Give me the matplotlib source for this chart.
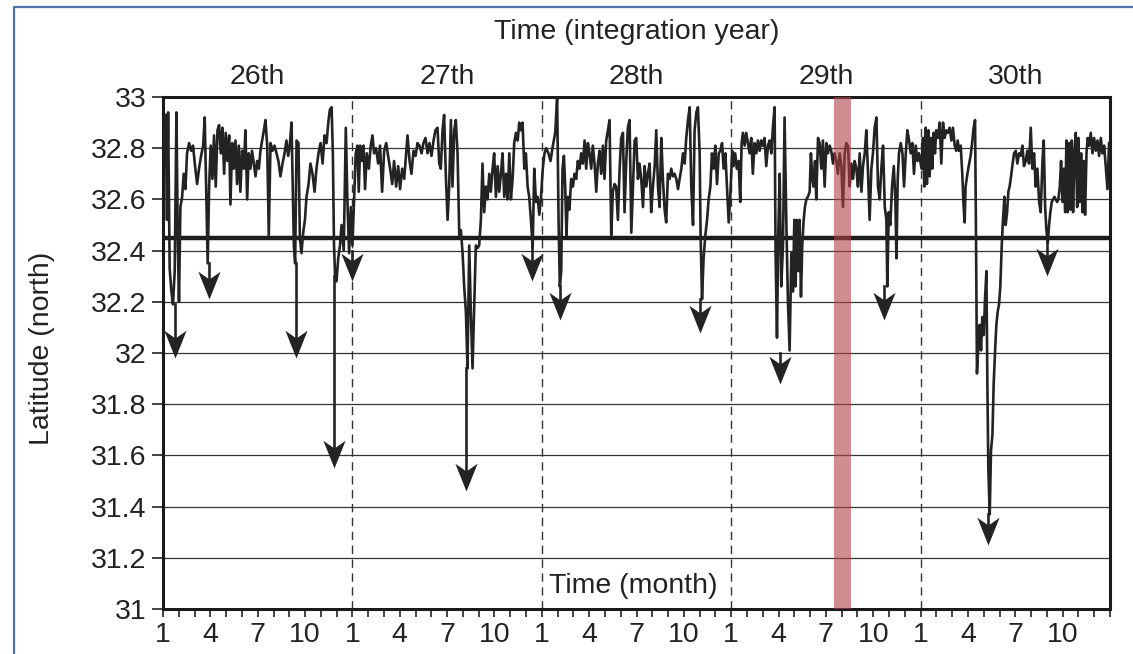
import matplotlib.pyplot as plt
import numpy as np
from matplotlib.path import Path
from matplotlib.lines import Line2D

plt.rcParams["font.family"] = ["Liberation Sans", "DejaVu Sans"]

# integration years shown and month tick labels
years = ["26th", "27th", "28th", "29th", "30th"]
month_labels = ["1", "4", "7", "10"]

# (months since start of year, latitude north) for each integration year
yr26 = [(0.00, 32.78), (0.06, 32.86), (0.17, 32.93), (0.25, 32.52), (0.32, 32.94), (0.42, 32.33),
        (0.53, 32.24), (0.63, 32.19), (0.74, 32.32), (0.85, 32.94), (0.93, 32.46), (1.01, 32.20),
        (1.10, 32.57), (1.21, 32.61), (1.31, 32.70), (1.42, 32.64), (1.52, 32.78), (1.65, 32.82),
        (1.78, 32.79), (1.90, 32.81), (2.03, 32.73), (2.16, 32.66), (2.28, 32.72), (2.41, 32.77),
        (2.54, 32.81), (2.64, 32.92), (2.73, 32.65), (2.83, 32.35), (2.92, 32.65), (3.02, 32.81),
        (3.13, 32.68), (3.23, 32.85), (3.34, 32.65), (3.45, 32.87), (3.55, 32.89), (3.66, 32.78),
        (3.76, 32.88), (3.87, 32.70), (3.97, 32.86), (4.08, 32.75), (4.19, 32.85), (4.27, 32.58),
        (4.38, 32.82), (4.48, 32.72), (4.59, 32.83), (4.69, 32.66), (4.80, 32.81), (4.90, 32.63),
        (5.01, 32.79), (5.12, 32.72), (5.22, 32.87), (5.33, 32.60), (5.43, 32.78), (5.54, 32.72),
        (5.64, 32.79), (5.75, 32.74), (5.86, 32.69), (5.96, 32.75), (6.07, 32.72), (6.17, 32.79),
        (6.28, 32.83), (6.39, 32.87), (6.49, 32.91), (6.60, 32.81), (6.70, 32.46), (6.81, 32.82),
        (6.93, 32.79), (7.06, 32.81), (7.19, 32.78), (7.31, 32.75), (7.44, 32.69), (7.57, 32.74),
        (7.70, 32.78), (7.82, 32.83), (7.93, 32.77), (8.03, 32.81), (8.14, 32.90), (8.22, 32.65),
        (8.29, 32.42), (8.37, 32.35), (8.46, 32.83), (8.58, 32.82), (8.67, 32.45), (8.77, 32.39),
        (8.88, 32.47), (8.99, 32.52), (9.09, 32.61), (9.22, 32.66), (9.34, 32.74), (9.47, 32.70),
        (9.60, 32.63), (9.72, 32.72), (9.85, 32.78), (9.98, 32.82), (10.11, 32.74), (10.23, 32.85),
        (10.36, 32.82), (10.47, 32.90), (10.57, 32.95), (10.68, 32.96), (10.76, 32.78), (10.83, 32.43),
        (10.90, 32.30), (10.99, 32.28), (11.10, 32.37), (11.21, 32.42), (11.31, 32.50), (11.45, 32.40),
        (11.58, 32.88), (11.68, 32.60), (11.79, 32.39), (11.90, 32.57)]

yr27 = [(0.00, 32.42), (0.11, 32.61), (0.21, 32.78), (0.32, 32.81), (0.40, 32.63), (0.49, 32.81),
        (0.59, 32.75), (0.70, 32.81), (0.80, 32.64), (0.91, 32.78), (1.04, 32.72), (1.16, 32.81),
        (1.27, 32.85), (1.37, 32.78), (1.50, 32.80), (1.63, 32.74), (1.75, 32.81), (1.88, 32.63),
        (2.01, 32.79), (2.14, 32.82), (2.26, 32.77), (2.39, 32.72), (2.52, 32.66), (2.64, 32.75),
        (2.77, 32.65), (2.90, 32.73), (3.02, 32.64), (3.15, 32.72), (3.28, 32.68), (3.40, 32.78),
        (3.49, 32.85), (3.62, 32.75), (3.74, 32.70), (3.87, 32.79), (4.00, 32.77), (4.12, 32.82),
        (4.25, 32.81), (4.38, 32.78), (4.50, 32.82), (4.63, 32.84), (4.76, 32.78), (4.88, 32.82),
        (5.01, 32.77), (5.14, 32.83), (5.26, 32.87), (5.39, 32.88), (5.50, 32.74), (5.60, 32.72),
        (5.71, 32.87), (5.81, 32.93), (5.92, 32.69), (6.03, 32.52), (6.13, 32.65), (6.24, 32.91),
        (6.34, 32.65), (6.45, 32.87), (6.55, 32.91), (6.66, 32.78), (6.77, 32.46), (6.87, 32.48),
        (6.98, 32.39), (7.08, 32.26), (7.19, 32.16), (7.29, 31.94), (7.40, 32.42), (7.51, 32.14),
        (7.61, 31.94), (7.72, 32.20), (7.82, 32.42), (7.93, 32.41), (8.03, 32.42), (8.14, 32.52),
        (8.24, 32.74), (8.35, 32.55), (8.46, 32.65), (8.56, 32.60), (8.67, 32.70), (8.77, 32.63),
        (8.88, 32.72), (8.98, 32.78), (9.09, 32.61), (9.20, 32.73), (9.30, 32.63), (9.41, 32.70),
        (9.51, 32.78), (9.62, 32.61), (9.73, 32.70), (9.83, 32.60), (9.94, 32.78), (10.04, 32.60),
        (10.15, 32.68), (10.25, 32.82), (10.36, 32.86), (10.47, 32.83), (10.57, 32.90), (10.68, 32.87),
        (10.78, 32.90), (10.89, 32.72), (10.99, 32.78), (11.10, 32.65), (11.20, 32.61), (11.31, 32.52),
        (11.42, 32.41), (11.52, 32.72), (11.63, 32.59), (11.73, 32.61), (11.84, 32.54), (11.94, 32.60)]

yr28 = [(0.06, 32.72), (0.17, 32.78), (0.27, 32.80), (0.42, 32.78), (0.55, 32.75), (0.70, 32.81),
        (0.85, 32.86), (0.97, 33.00), (1.06, 32.52), (1.14, 32.26), (1.23, 32.32), (1.31, 32.72),
        (1.40, 32.77), (1.48, 32.65), (1.56, 32.46), (1.65, 32.61), (1.75, 32.56), (1.86, 32.68),
        (1.97, 32.65), (2.07, 32.70), (2.18, 32.68), (2.28, 32.75), (2.39, 32.72), (2.49, 32.78),
        (2.60, 32.74), (2.71, 32.83), (2.81, 32.72), (2.92, 32.82), (3.02, 32.78), (3.13, 32.72),
        (3.23, 32.81), (3.34, 32.74), (3.45, 32.63), (3.55, 32.74), (3.66, 32.79), (3.76, 32.70),
        (3.87, 32.81), (3.97, 32.68), (4.08, 32.83), (4.19, 32.87), (4.29, 32.91), (4.40, 32.46),
        (4.50, 32.63), (4.61, 32.66), (4.71, 32.65), (4.82, 32.52), (4.93, 32.72), (5.03, 32.84),
        (5.14, 32.86), (5.24, 32.55), (5.35, 32.75), (5.45, 32.88), (5.56, 32.91), (5.67, 32.47),
        (5.77, 32.64), (5.88, 32.83), (5.98, 32.84), (6.09, 32.68), (6.19, 32.74), (6.30, 32.68),
        (6.41, 32.57), (6.51, 32.73), (6.62, 32.65), (6.72, 32.70), (6.83, 32.74), (6.93, 32.55),
        (7.04, 32.65), (7.15, 32.73), (7.25, 32.87), (7.36, 32.65), (7.46, 32.57), (7.57, 32.84),
        (7.67, 32.68), (7.78, 32.56), (7.88, 32.51), (7.99, 32.70), (8.10, 32.68), (8.20, 32.72),
        (8.31, 32.69), (8.41, 32.70), (8.52, 32.68), (8.63, 32.64), (8.73, 32.68), (8.84, 32.72),
        (8.94, 32.78), (9.05, 32.74), (9.15, 32.84), (9.26, 32.91), (9.37, 32.96), (9.47, 32.65),
        (9.58, 32.50), (9.68, 32.87), (9.79, 32.94), (9.89, 32.96), (10.00, 32.78), (10.06, 32.46),
        (10.15, 32.21), (10.25, 32.37), (10.36, 32.46), (10.47, 32.52), (10.57, 32.60), (10.68, 32.65),
        (10.78, 32.78), (10.89, 32.72), (10.99, 32.81), (11.10, 32.66), (11.21, 32.78), (11.31, 32.79),
        (11.42, 32.82), (11.52, 32.72), (11.63, 32.78), (11.73, 32.65), (11.84, 32.51), (11.94, 32.61)]

yr29 = [(0.06, 32.79), (0.15, 32.73), (0.25, 32.78), (0.36, 32.72), (0.47, 32.75), (0.57, 32.59),
        (0.66, 32.82), (0.74, 32.86), (0.85, 32.81), (0.95, 32.86), (1.06, 32.82), (1.16, 32.78),
        (1.27, 32.84), (1.37, 32.70), (1.48, 32.82), (1.59, 32.78), (1.69, 32.83), (1.80, 32.79),
        (1.90, 32.83), (2.01, 32.81), (2.11, 32.84), (2.22, 32.73), (2.33, 32.81), (2.43, 32.83),
        (2.54, 32.78), (2.64, 32.88), (2.75, 32.96), (2.81, 32.39), (2.90, 32.06), (2.98, 32.46),
        (3.07, 32.70), (3.17, 32.26), (3.28, 32.42), (3.38, 32.92), (3.49, 32.52), (3.59, 32.21),
        (3.70, 32.01), (3.81, 32.39), (3.91, 32.24), (4.00, 32.52), (4.08, 32.26), (4.16, 32.52),
        (4.25, 32.32), (4.33, 32.52), (4.42, 32.22), (4.50, 32.42), (4.59, 32.52), (4.67, 32.57),
        (4.76, 32.60), (4.86, 32.61), (4.97, 32.63), (5.05, 32.78), (5.14, 32.68), (5.22, 32.65),
        (5.31, 32.75), (5.39, 32.60), (5.50, 32.84), (5.60, 32.82), (5.71, 32.72), (5.81, 32.83),
        (5.92, 32.65), (6.03, 32.82), (6.13, 32.78), (6.24, 32.81), (6.34, 32.79), (6.45, 32.74),
        (6.55, 32.78), (6.66, 32.75), (6.76, 32.70), (6.87, 32.78), (6.98, 32.73), (7.08, 32.57),
        (7.19, 32.78), (7.29, 32.82), (7.40, 32.81), (7.51, 32.65), (7.61, 32.74), (7.72, 32.68),
        (7.82, 32.75), (7.93, 32.72), (8.03, 32.65), (8.14, 32.78), (8.25, 32.63), (8.35, 32.73),
        (8.46, 32.78), (8.56, 32.87), (8.67, 32.70), (8.77, 32.52), (8.88, 32.72), (8.98, 32.78),
        (9.09, 32.88), (9.20, 32.92), (9.30, 32.65), (9.41, 32.60), (9.51, 32.72), (9.62, 32.81),
        (9.73, 32.57), (9.83, 32.52), (9.89, 32.26), (9.98, 32.55), (10.08, 32.50), (10.19, 32.65),
        (10.30, 32.73), (10.40, 32.60), (10.47, 32.37), (10.55, 32.68), (10.63, 32.78), (10.74, 32.82),
        (10.85, 32.78), (10.95, 32.65), (11.06, 32.78), (11.16, 32.87), (11.27, 32.83), (11.37, 32.78),
        (11.48, 32.82), (11.58, 32.70), (11.69, 32.81), (11.80, 32.75), (11.90, 32.78)]

yr30 = [(0.06, 32.72), (0.15, 32.84), (0.23, 32.65), (0.32, 32.88), (0.40, 32.66), (0.49, 32.87),
        (0.57, 32.69), (0.66, 32.84), (0.74, 32.72), (0.82, 32.86), (0.91, 32.78), (0.99, 32.87),
        (1.10, 32.84), (1.21, 32.90), (1.31, 32.74), (1.42, 32.90), (1.52, 32.84), (1.63, 32.87),
        (1.73, 32.86), (1.84, 32.88), (1.95, 32.83), (2.05, 32.88), (2.16, 32.81), (2.26, 32.79),
        (2.35, 32.83), (2.43, 32.79), (2.54, 32.81), (2.64, 32.70), (2.71, 32.59), (2.79, 32.51),
        (2.85, 32.65), (2.94, 32.69), (3.02, 32.72), (3.11, 32.75), (3.19, 32.78), (3.28, 32.83),
        (3.36, 32.88), (3.45, 32.91), (3.51, 32.46), (3.57, 31.92), (3.66, 32.03), (3.74, 32.11),
        (3.83, 32.01), (3.91, 32.14), (4.00, 32.07), (4.08, 32.21), (4.17, 32.32), (4.23, 31.88),
        (4.29, 31.55), (4.38, 31.37), (4.46, 31.62), (4.55, 31.68), (4.63, 31.88), (4.72, 32.01),
        (4.80, 32.11), (4.88, 32.16), (4.97, 32.19), (5.05, 32.26), (5.14, 32.42), (5.22, 32.52),
        (5.31, 32.61), (5.39, 32.50), (5.48, 32.55), (5.56, 32.63), (5.64, 32.65), (5.73, 32.69),
        (5.81, 32.73), (5.92, 32.78), (6.03, 32.79), (6.13, 32.74), (6.24, 32.78), (6.34, 32.77),
        (6.45, 32.81), (6.55, 32.73), (6.66, 32.75), (6.76, 32.79), (6.87, 32.74), (6.98, 32.88),
        (7.08, 32.72), (7.19, 32.78), (7.29, 32.65), (7.40, 32.72), (7.51, 32.59), (7.61, 32.55),
        (7.72, 32.75), (7.80, 32.83), (7.89, 32.57), (7.97, 32.48), (8.06, 32.43), (8.14, 32.50),
        (8.22, 32.55), (8.31, 32.59), (8.39, 32.60), (8.48, 32.61), (8.56, 32.60), (8.65, 32.59),
        (8.73, 32.60), (8.82, 32.65), (8.90, 32.75), (8.99, 32.59), (9.07, 32.72), (9.16, 32.55),
        (9.24, 32.83), (9.32, 32.55), (9.41, 32.82), (9.49, 32.56), (9.58, 32.83), (9.66, 32.55),
        (9.75, 32.78), (9.83, 32.86), (9.92, 32.57), (10.00, 32.84), (10.08, 32.59), (10.17, 32.78),
        (10.25, 32.55), (10.34, 32.75), (10.42, 32.54), (10.51, 32.78), (10.59, 32.84), (10.68, 32.81),
        (10.78, 32.86), (10.89, 32.78), (10.99, 32.84), (11.10, 32.79), (11.21, 32.83), (11.31, 32.77),
        (11.42, 32.84), (11.52, 32.78), (11.63, 32.81), (11.73, 32.73), (11.84, 32.64), (11.94, 32.82)]

series = [yr26, yr27, yr28, yr29, yr30]

threshold = 32.45

# highlighted period in the 29th year (months since start of year)
band_year = 3
band_months = (6.5, 7.6)

# downward arrows marking southward excursions
arrow_year = [0, 0, 0, 0, 0, 1, 1, 2, 2, 3, 3, 4, 4]
arrow_month = [0.74, 2.92, 8.43, 10.84, 11.98, 7.21, 11.40, 1.17, 10.05, 3.12, 9.66, 4.25, 7.99]
arrow_from = [32.19, 32.35, 32.35, 32.30, 32.40, 31.94, 32.41, 32.26, 32.21, 32.00, 32.26, 31.37, 32.43]
arrow_to = [31.98, 32.21, 31.98, 31.55, 32.28, 31.46, 32.28, 32.13, 32.08, 31.88, 32.13, 31.25, 32.30]

ink = "#232323"
fs = 20.5

fig = plt.figure(figsize=(11.33, 6.54), dpi=100)
ax = fig.add_axes([0.1439, 0.0688, 0.8358, 0.7829])

t_all, lat_all = [], []
for k, data in enumerate(series):
    m, v = np.array(data).T
    t_all.append(12 * k + m)
    lat_all.append(v)
t_all = np.concatenate(t_all)
lat_all = np.concatenate(lat_all)

ax.plot(t_all, lat_all, color=ink, lw=1.9, zorder=3)
ax.axhline(threshold, color="#1c1c1c", lw=3.2, zorder=2)

for k in range(1, len(years)):
    ax.axvline(12 * k, color="#333333", lw=1.0, ls=(0, (6, 4)), zorder=1)

# arrow shafts and notched heads
head = Path([(0, 0), (-0.4, 1.0), (0, 0.72), (0.4, 1.0), (0, 0)],
            [Path.MOVETO, Path.LINETO, Path.LINETO, Path.LINETO, Path.CLOSEPOLY])
for yk, mo, a, b in zip(arrow_year, arrow_month, arrow_from, arrow_to):
    x = 12 * yk + mo
    ax.plot([x, x], [a, b + 0.06], color=ink, lw=1.9, zorder=4)
    ax.plot([x], [b], marker=head, ms=40, color=ink, mec=ink, mew=0, zorder=4)

ax.axvspan(12 * band_year + band_months[0], 12 * band_year + band_months[1],
           color=(0.69, 0.26, 0.29), alpha=0.6, lw=0, zorder=6)

ax.set_xlim(0, 12 * len(years))
ax.set_ylim(31, 33)

yt = np.round(np.arange(31, 33.01, 0.2), 1)
ax.set_yticks(yt)
ax.set_yticklabels([f"{v:g}" for v in yt])
ax.grid(axis="y", color="#333333", lw=0.9, zorder=1)

xt = np.arange(0, 12 * len(years) + 1)
xl = []
for i in xt:
    if i < 12 * len(years) and i % 3 == 0:
        xl.append(month_labels[(i % 12) // 3])
    else:
        xl.append("")
ax.set_xticks(xt)
ax.set_xticklabels(xl)

ax.tick_params(axis="both", direction="out", width=1.2, labelsize=fs, colors="#222222")
ax.tick_params(axis="x", length=6, pad=3)
ax.tick_params(axis="y", length=8, pad=4)
for s in ax.spines.values():
    s.set_linewidth(2.2)
    s.set_color("#1a1a1a")

for k, name in enumerate(years):
    ax.text(12 * k + 6, 1.039, name, transform=ax.get_xaxis_transform(),
            ha="center", va="center", fontsize=fs, color="#222222")
ax.text(30, 1.127, "Time (integration year)", transform=ax.get_xaxis_transform(),
        ha="center", va="center", fontsize=fs, color="#222222")
ax.text(29.8, 31.09, "Time (month)", ha="center", va="center", fontsize=fs,
        color="#222222", zorder=7)
fig.text(42 / 1133, 1 - 348 / 654, "Latitude (north)", rotation=90,
         ha="center", va="center", fontsize=fs, color="#222222")

# outer frame
fig.add_artist(Line2D([14 / 1133, 14 / 1133, 1.0], [0, 1 - 7 / 654, 1 - 7 / 654],
                      color="#4d72a8", lw=1.6, transform=fig.transFigure))

fig.savefig("out.png", dpi=100)
